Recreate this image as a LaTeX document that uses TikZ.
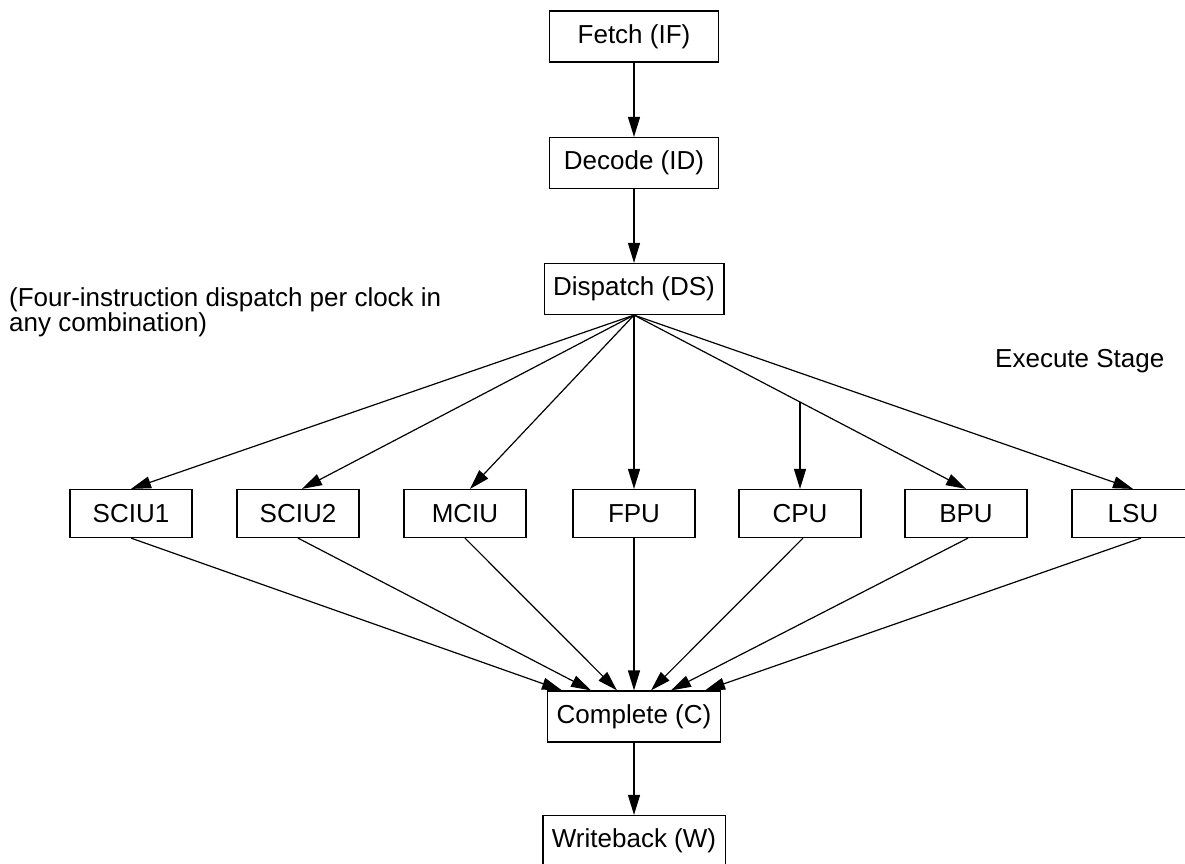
\documentclass[tikz,border=0pt]{standalone}
\usepackage{fontspec}
\setmainfont{Liberation Sans}
\usetikzlibrary{arrows.meta,calc}
\begin{document}
\begin{tikzpicture}[x=1pt,y=-1pt,
  every node/.style={font=\fontsize{26}{24}\selectfont},
  stage/.style={draw,line width=1.2pt,minimum width=169pt,minimum height=51pt,inner xsep=9pt,inner ysep=0pt},
  unit/.style={draw,line width=1.2pt,minimum width=122pt,minimum height=48pt,inner sep=0pt},
  arr/.style={line width=1.2pt,-{Triangle[length=20pt,width=12pt]}},
  ln/.style={line width=1.2pt}]
\useasboundingbox (0,0) rectangle (1185,863);
\clip (0,0) rectangle (1185,863);
\fill[white] (0,0) rectangle (1185,863);
% stages
\node[stage] (if) at (634,36.5) {Fetch (IF)};
\node[stage] (id) at (634,163) {Decode (ID)};
\node[stage] (ds) at (634,289) {Dispatch (DS)};
\node[stage] (cc) at (634,716.5) {Complete (C)};
\node[stage] (wb) at (634,841) {Writeback (W)};
% units
\node[unit] (u1) at (131,513.5) {SCIU1};
\node[unit] (u2) at (298,513.5) {SCIU2};
\node[unit] (u3) at (465,513.5) {MCIU};
\node[unit] (u4) at (634,513.5) {FPU};
\node[unit] (u5) at (800,513.5) {CPU};
\node[unit] (u6) at (966,513.5) {BPU};
\node[unit] (u7) at (1133,513.5) {LSU};
% labels
\node[anchor=north west,align=left,inner sep=0pt] (note) at (9,287) {(Four-instruction dispatch per clock in\\any combination)};
\node[anchor=west,inner sep=0pt] (exs) at (995,361) {Execute Stage};
% pipeline arrows
\draw[arr] (if) -- (id);
\draw[arr] (id) -- (ds);
\draw[arr] (cc) -- (wb);
% dispatch fan-out
\draw[arr] (ds.south) -- (u1.north);
\draw[arr] (ds.south) -- ($(u2.north)+(4,0)$);
\draw[arr] (ds.south) -- ($(u3.north)+(5,0)$);
\draw[arr] (ds.south) -- (u4.north);
\draw[arr] (ds.south) -- (u6.north) coordinate[pos=0.5] (cpumid);
\draw[arr] (cpumid) -- (cpumid |- u5.north);
\draw[arr] (ds.south) -- (u7.north);
% into complete
\draw[arr] (u1.south) -- ($(cc.north)+(-72,0)$);
\draw[arr] (u2.south) -- ($(cc.north)+(-43,0)$);
\draw[arr] (u3.south) -- ($(cc.north)+(-17,0)$);
\draw[arr] (u4.south) -- (cc.north);
\draw[arr] ($(u5.south)+(3,0)$) -- ($(cc.north)+(17,0)$);
\draw[arr] ($(u6.south)+(2,0)$) -- ($(cc.north)+(37,0)$);
\draw[arr] ($(u7.south)+(8,0)$) -- ($(cc.north)+(71,0)$);
\end{tikzpicture}
\end{document}
